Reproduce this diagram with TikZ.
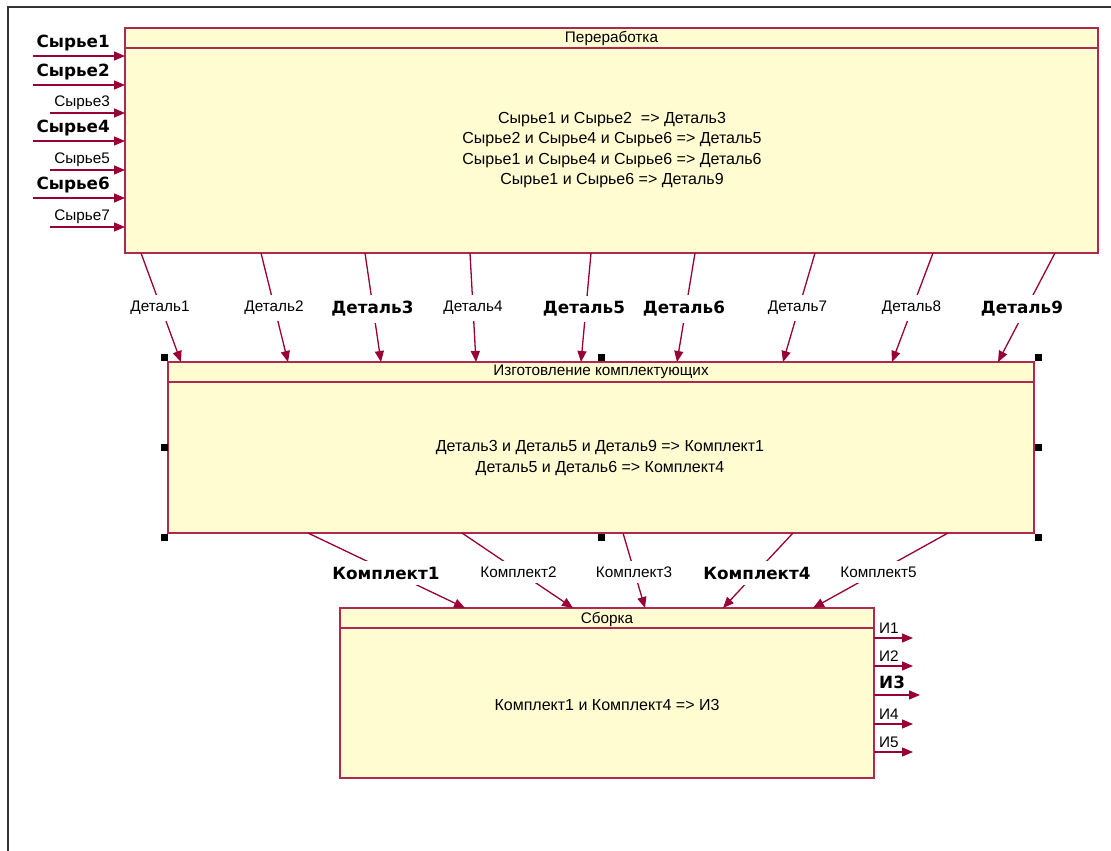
\documentclass[tikz,border=0pt]{standalone}
\usepackage{fontspec}
\setmainfont{Liberation Sans}
\newfontfamily\heavy{DejaVu Sans}
\usetikzlibrary{arrows.meta}
\definecolor{boxfill}{RGB}{255,252,210}
\definecolor{boxline}{RGB}{176,40,80}
\definecolor{arr}{RGB}{153,0,51}
\definecolor{framecol}{RGB}{50,50,50}
\begin{document}
\begin{tikzpicture}[x=1pt,y=-1pt,
 box/.style={draw=boxline, fill=boxfill, line width=1.2pt, anchor=north west, inner sep=0pt, outer sep=0pt},
 hdr/.style={draw=boxline, line width=1.2pt},
 flow/.style={draw=arr, line width=1.3pt, -{Triangle[length=11pt,width=9pt]}},
 lbl/.style={font=\fontsize{15.3}{20}\selectfont, inner sep=0pt, text=black},
 btxt/.style={font=\fontsize{16}{20.3}\selectfont, inner sep=0pt, text=black, align=center},
 blbl/.style={font=\heavy\bfseries\fontsize{16.8}{18}\selectfont, inner sep=0pt, text=black},
 gap/.style={fill=white, inner xsep=2pt, inner ysep=6pt},
 handle/.style={fill=black, minimum size=7pt, inner sep=0pt, draw=none}
]
\useasboundingbox (0,0) rectangle (1111,851);
\fill[white] (0,0) rectangle (1111,851);
\draw[framecol, line width=2pt] (8,851) -- (8,7) -- (1111,7);

% ---------- boxes ----------
\node[box, minimum width=973pt, minimum height=225pt] (p1) at (125,28) {};
\coordinate (p1h) at (125,48);
\draw[hdr] (p1h) -- (p1h -| p1.east);
\node[lbl] (p1t) at (611.5,38.5) {Переработка};
\node[btxt] (p1x) at (612,150) {Сырье1 и Сырье2\ \ => Деталь3\\Сырье2 и Сырье4 и Сырье6 => Деталь5\\Сырье1 и Сырье4 и Сырье6 => Деталь6\\Сырье1 и Сырье6 => Деталь9};

\node[box, minimum width=866pt, minimum height=171pt] (p2) at (168,362) {};
\coordinate (p2h) at (168,382);
\draw[hdr] (p2h) -- (p2h -| p2.east);
\node[lbl] (p2t) at (601,372) {Изготовление комплектующих};
\node[btxt] (p2x) at (600,458) {Деталь3 и Деталь5 и Деталь9 => Комплект1\\Деталь5 и Деталь6 => Комплект4};

\node[box, minimum width=534pt, minimum height=170pt] (p3) at (340,608) {};
\coordinate (p3h) at (340,628);
\draw[hdr] (p3h) -- (p3h -| p3.east);
\node[lbl] (p3t) at (607,619) {Сборка};
\node[btxt] (p3x) at (607,705) {Комплект1 и Комплект4 => И3};

% ---------- selection handles ----------
\node[handle] (h1) at (164.5,357.5) {};
\node[handle] (h2) at (601.5,357.5) {};
\node[handle] (h3) at (1038.5,357.5) {};
\node[handle] (h4) at (164.5,447) {};
\node[handle] (h5) at (1038.5,447) {};
\node[handle] (h6) at (164.5,537.5) {};
\node[handle] (h7) at (601.5,537.5) {};
\node[handle] (h8) at (1038.5,537.5) {};

% ---------- inputs ----------
\coordinate (s1) at (33,56);
\coordinate (s2) at (33,85);
\coordinate (s3) at (50,113);
\coordinate (s4) at (33,141);
\coordinate (s5) at (50,170);
\coordinate (s6) at (33,198);
\coordinate (s7) at (50,227);
\foreach \i in {1,...,7} {\draw[flow] (s\i) -- (s\i -| p1.west);}
\node[blbl, anchor=east] (ls1) at (110,43) {Сырье1};
\node[blbl, anchor=east] (ls2) at (110,72) {Сырье2};
\node[lbl, anchor=east] (ls3) at (110,103) {Сырье3};
\node[blbl, anchor=east] (ls4) at (110,128) {Сырье4};
\node[lbl, anchor=east] (ls5) at (110,160) {Сырье5};
\node[blbl, anchor=east] (ls6) at (110,185) {Сырье6};
\node[lbl, anchor=east] (ls7) at (110,217) {Сырье7};

% ---------- details ----------
\coordinate (d1a) at (141,253);  \coordinate (d1b) at (181,362);
\coordinate (d2a) at (261,253);  \coordinate (d2b) at (288,362);
\coordinate (d3a) at (365,253);  \coordinate (d3b) at (381,362);
\coordinate (d4a) at (470,253);  \coordinate (d4b) at (476,362);
\coordinate (d5a) at (591,253);  \coordinate (d5b) at (581,362);
\coordinate (d6a) at (695,253);  \coordinate (d6b) at (677,362);
\coordinate (d7a) at (815,253);  \coordinate (d7b) at (783,362);
\coordinate (d8a) at (933,253);  \coordinate (d8b) at (892,362);
\coordinate (d9a) at (1055,253); \coordinate (d9b) at (998,362);
\foreach \i in {1,...,9} {\draw[flow] (d\i a) -- (d\i b);}
\node[lbl, gap] (ld1) at (160,308) {Деталь1};
\node[lbl, gap] (ld2) at (274,308) {Деталь2};
\node[blbl, gap] (ld3) at (372.5,309) {Деталь3};
\node[lbl, gap] (ld4) at (473,308) {Деталь4};
\node[blbl, gap] (ld5) at (584,309) {Деталь5};
\node[blbl, gap] (ld6) at (684,309) {Деталь6};
\node[lbl, gap] (ld7) at (797.5,308) {Деталь7};
\node[lbl, gap] (ld8) at (911.5,308) {Деталь8};
\node[blbl, gap] (ld9) at (1022,309) {Деталь9};

% ---------- kits ----------
\coordinate (k1a) at (308,533); \coordinate (k1b) at (465,608);
\coordinate (k2a) at (462,533); \coordinate (k2b) at (573,608);
\coordinate (k3a) at (623,533); \coordinate (k3b) at (645,608);
\coordinate (k4a) at (793,533); \coordinate (k4b) at (723,608);
\coordinate (k5a) at (948,533); \coordinate (k5b) at (813,608);
\foreach \i in {1,...,5} {\draw[flow] (k\i a) -- (k\i b);}
\node[blbl, gap] (lk1) at (386,573) {Комплект1};
\node[lbl, gap] (lk2) at (518.5,572) {Комплект2};
\node[lbl, gap] (lk3) at (634,572) {Комплект3};
\node[blbl, gap] (lk4) at (757,573) {Комплект4};
\node[lbl, gap] (lk5) at (878.5,572) {Комплект5};

% ---------- outputs ----------
\coordinate (o1) at (913,638);
\coordinate (o2) at (913,666);
\coordinate (o3) at (920,695);
\coordinate (o4) at (913,724);
\coordinate (o5) at (913,752);
\foreach \i in {1,...,5} {\draw[flow] (o\i -| p3.east) -- (o\i);}
\node[lbl, anchor=west] (lo1) at (879,628) {И1};
\node[lbl, anchor=west] (lo2) at (879,656) {И2};
\node[blbl, anchor=west] (lo3) at (879,682) {И3};
\node[lbl, anchor=west] (lo4) at (879,714) {И4};
\node[lbl, anchor=west] (lo5) at (879,742) {И5};
\end{tikzpicture}
\end{document}
